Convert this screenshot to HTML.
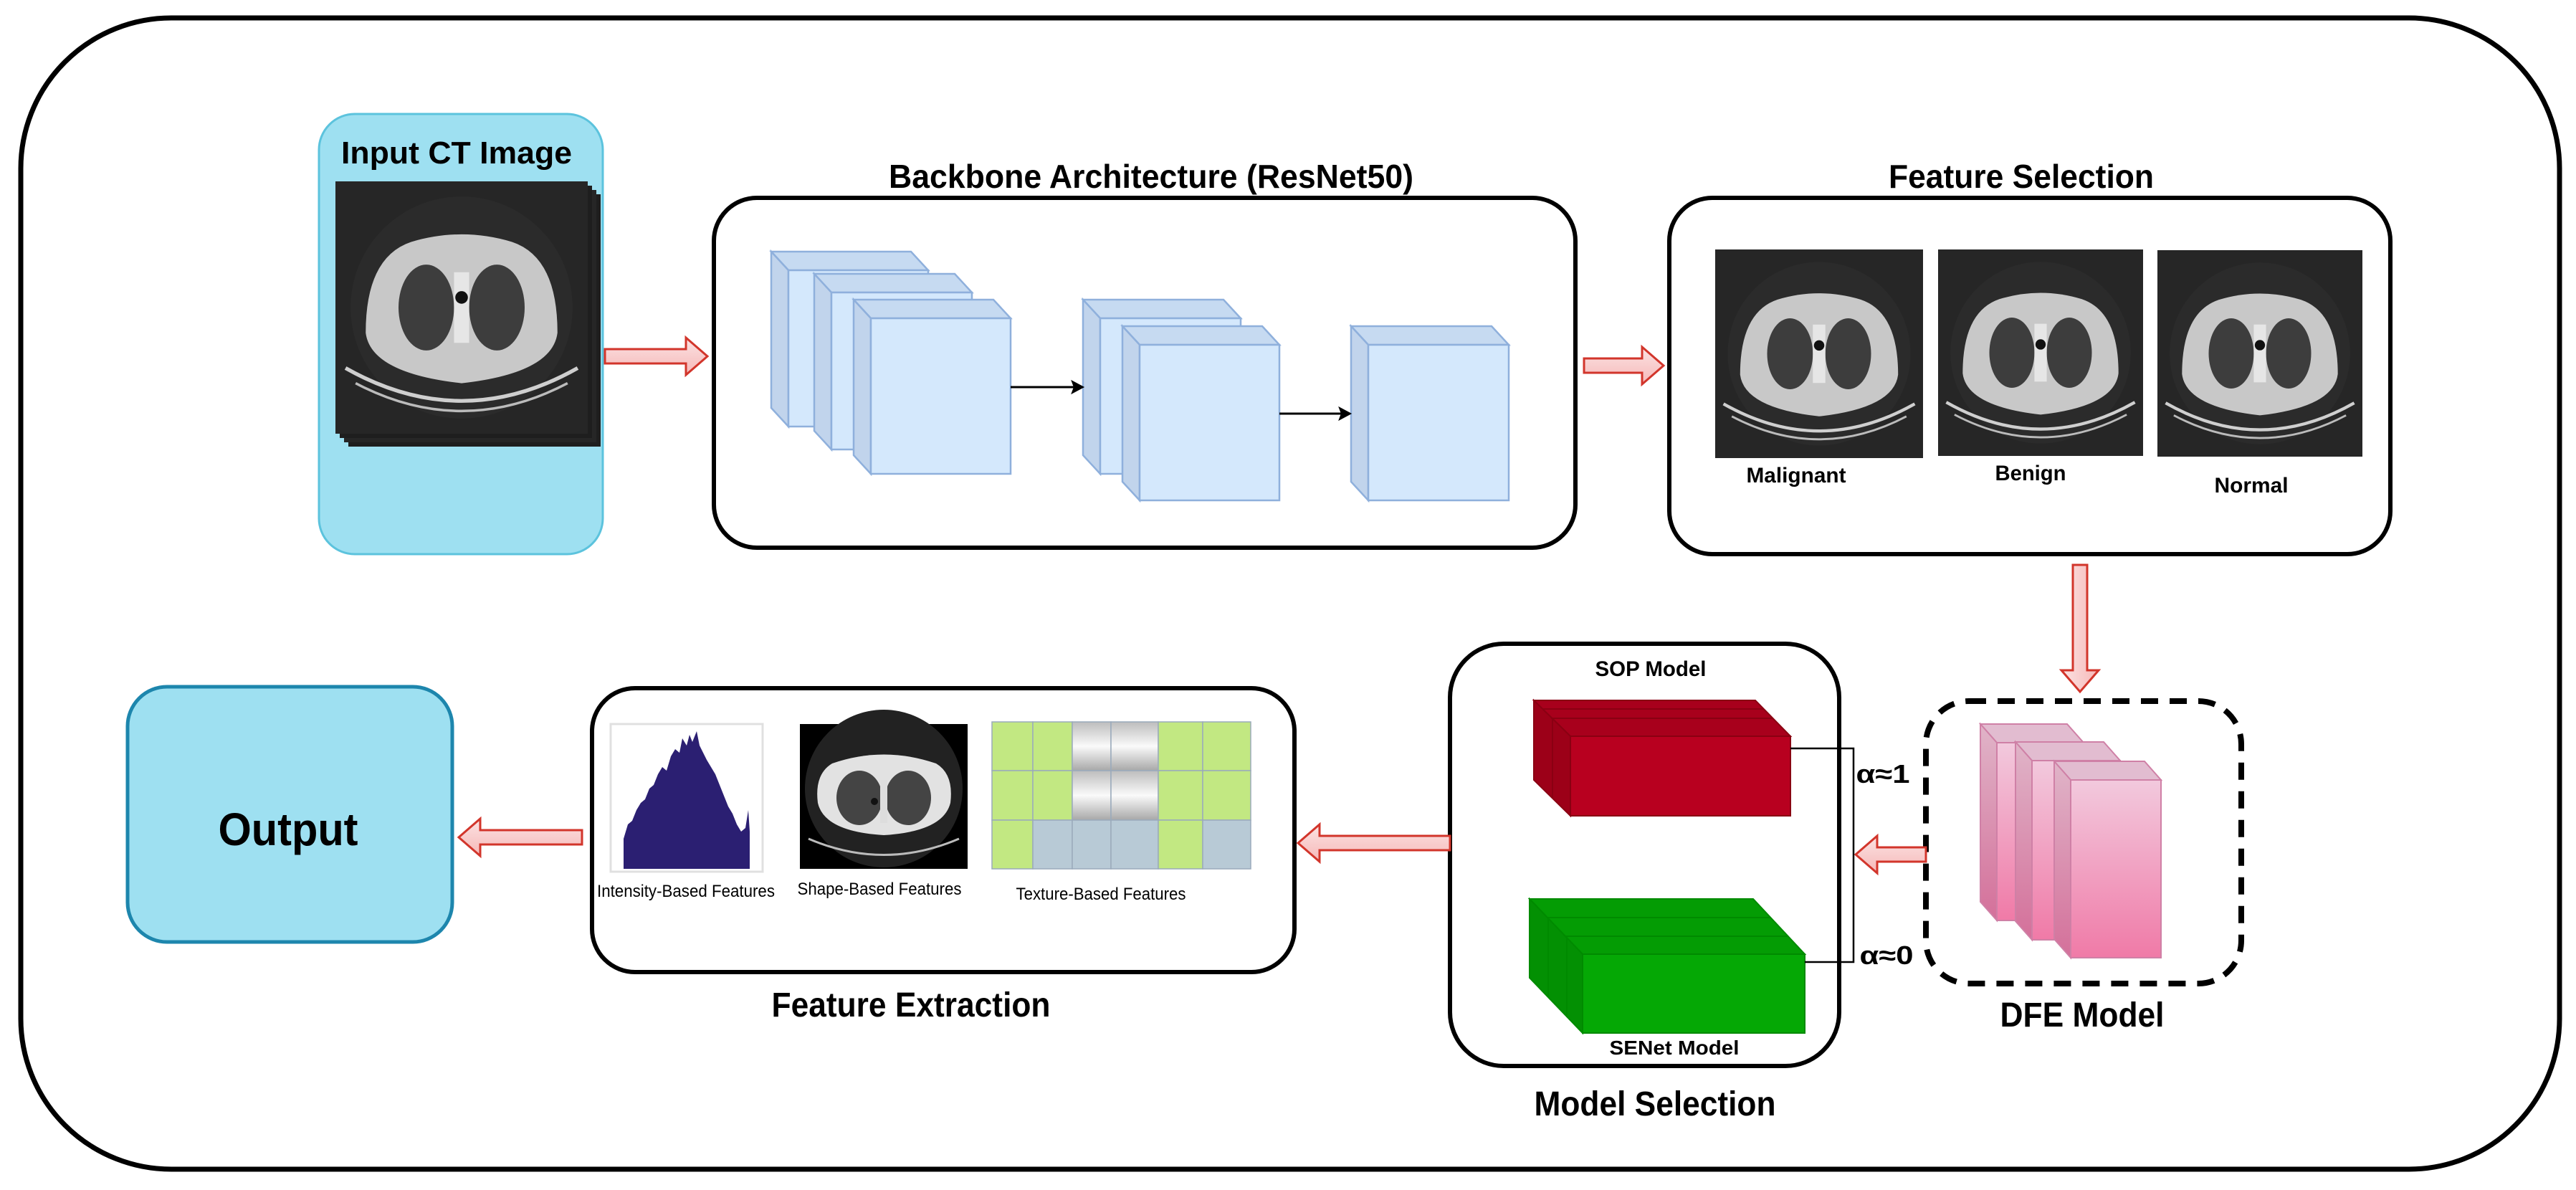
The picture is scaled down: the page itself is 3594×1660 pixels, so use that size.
<!DOCTYPE html>
<html><head><meta charset="utf-8"><style>
html,body{margin:0;padding:0;background:#fff;}
svg{display:block;}
text{font-family:"Liberation Sans Narrow","Liberation Sans",Arial,sans-serif;fill:#000;}
.b{font-weight:bold;}
</style></head><body>
<svg width="3594" height="1660" viewBox="0 0 3594 1660" xmlns="http://www.w3.org/2000/svg">
<defs>
<symbol id="ct" viewBox="0 0 100 100" preserveAspectRatio="none">
<rect x="0" y="0" width="100" height="100" fill="#262626"/>
<ellipse cx="50" cy="50" rx="44" ry="44" fill="#2b2b2b"/>
<path d="M12,60 Q12,30 30,24 Q50,18 70,24 Q88,30 88,60 Q86,76 50,80 Q14,76 12,60Z" fill="#c8c8c8"/>
<ellipse cx="36" cy="50" rx="11" ry="17" fill="#3d3d3d"/>
<ellipse cx="64" cy="50" rx="11" ry="17" fill="#3d3d3d"/>
<rect x="47" y="36" width="6" height="28" fill="#e6e6e6"/>
<circle cx="50" cy="46" r="2.5" fill="#111"/>
<path d="M4,74 Q50,100 96,74" stroke="#cfcfcf" stroke-width="1.5" fill="none"/>
<path d="M8,80 Q50,102 92,80" stroke="#bbb" stroke-width="1" fill="none"/>
</symbol>
<linearGradient id="pinkg" x1="0" y1="0" x2="0" y2="1"><stop offset="0" stop-color="#f2c9dd"/><stop offset="1" stop-color="#f07aa7"/></linearGradient>
<linearGradient id="pinks" x1="0" y1="0" x2="0" y2="1"><stop offset="0" stop-color="#e0b4c8"/><stop offset="1" stop-color="#d4709a"/></linearGradient>
<linearGradient id="grayc" x1="0" y1="0" x2="0" y2="1"><stop offset="0" stop-color="#bdbdbd"/><stop offset="0.5" stop-color="#fafafa"/><stop offset="1" stop-color="#a8a8a8"/></linearGradient>
<linearGradient id="arr" x1="0" y1="0" x2="0" y2="1"><stop offset="0" stop-color="#fbe3e3"/><stop offset="1" stop-color="#f6b8b8"/></linearGradient>
<linearGradient id="arrv" x1="0" y1="0" x2="1" y2="0"><stop offset="0" stop-color="#fbe3e3"/><stop offset="1" stop-color="#f6b8b8"/></linearGradient>
</defs>

<rect x="29" y="25" width="3542" height="1606" rx="210" ry="210" fill="none" stroke="#000" stroke-width="7"/>

<rect x="445" y="159" width="396" height="614" rx="50" fill="#9ee0f1" stroke="#5cc3dd" stroke-width="3"/>
<text class="b" x="637" y="228" font-size="44" text-anchor="middle" textLength="322" lengthAdjust="spacingAndGlyphs">Input CT Image</text>
<rect x="486" y="271" width="352" height="352" fill="#1e1e1e"/>
<rect x="480" y="265" width="352" height="352" fill="#262626"/>
<rect x="474" y="259" width="352" height="352" fill="#1e1e1e"/>
<use href="#ct" x="468" y="253" width="352" height="352"/>

<polygon points="844,487 957,487 957,471 987,497 957,523 957,507 844,507" fill="url(#arr)" stroke="#d2352b" stroke-width="3"/>

<text class="b" x="1606" y="262" font-size="46" text-anchor="middle" textLength="732" lengthAdjust="spacingAndGlyphs">Backbone Architecture (ResNet50)</text>
<rect x="996" y="276" width="1202" height="488" rx="60" fill="#fff" stroke="#000" stroke-width="6"/>
<g stroke="#8fb0dc" stroke-width="2.5">
<polygon points="1076,351 1271,351 1295,377 1100,377" fill="#c6daf1"/>
<polygon points="1076,351 1100,377 1100,595 1076,569" fill="#c1d4ec"/>
<rect x="1100" y="377" width="195" height="218" fill="#d4e8fc"/>
<polygon points="1136,382 1332,382 1356,408 1160,408" fill="#c6daf1"/>
<polygon points="1136,382 1160,408 1160,627 1136,601" fill="#c1d4ec"/>
<rect x="1160" y="408" width="196" height="219" fill="#d4e8fc"/>
<polygon points="1191,418 1386,418 1410,444 1215,444" fill="#c6daf1"/>
<polygon points="1191,418 1215,444 1215,661 1191,635" fill="#c1d4ec"/>
<rect x="1215" y="444" width="195" height="217" fill="#d4e8fc"/>
<polygon points="1511,418 1707,418 1731,444 1535,444" fill="#c6daf1"/>
<polygon points="1511,418 1535,444 1535,661 1511,635" fill="#c1d4ec"/>
<rect x="1535" y="444" width="196" height="217" fill="#d4e8fc"/>
<polygon points="1566,455 1761,455 1785,481 1590,481" fill="#c6daf1"/>
<polygon points="1566,455 1590,481 1590,698 1566,672" fill="#c1d4ec"/>
<rect x="1590" y="481" width="195" height="217" fill="#d4e8fc"/>
<polygon points="1885,455 2081,455 2105,481 1909,481" fill="#c6daf1"/>
<polygon points="1885,455 1909,481 1909,698 1885,672" fill="#c1d4ec"/>
<rect x="1909" y="481" width="196" height="217" fill="#d4e8fc"/>
</g>
<line x1="1410" y1="540" x2="1500" y2="540" stroke="#000" stroke-width="3"/>
<polygon points="1511,540 1496,532 1499,540 1496,548" fill="#000" stroke="#000" stroke-width="2"/>
<line x1="1785" y1="577" x2="1873" y2="577" stroke="#000" stroke-width="3"/>
<polygon points="1884,577 1869,569 1872,577 1869,585" fill="#000" stroke="#000" stroke-width="2"/>

<polygon points="2210,500 2291,500 2291,484 2321,510 2291,536 2291,520 2210,520" fill="url(#arr)" stroke="#d2352b" stroke-width="3"/>

<text class="b" x="2820" y="262" font-size="46" text-anchor="middle" textLength="370" lengthAdjust="spacingAndGlyphs">Feature Selection</text>
<rect x="2329" y="276" width="1006" height="497" rx="60" fill="#fff" stroke="#000" stroke-width="6"/>
<use href="#ct" x="2393" y="348" width="290" height="291"/>
<use href="#ct" x="2704" y="348" width="286" height="288"/>
<use href="#ct" x="3010" y="349" width="286" height="288"/>
<text class="b" x="2506" y="673" font-size="30" text-anchor="middle" textLength="139" lengthAdjust="spacingAndGlyphs">Malignant</text>
<text class="b" x="2833" y="670" font-size="30" text-anchor="middle" textLength="99" lengthAdjust="spacingAndGlyphs">Benign</text>
<text class="b" x="3141" y="687" font-size="30" text-anchor="middle" textLength="103" lengthAdjust="spacingAndGlyphs">Normal</text>

<polygon points="2892,788 2912,788 2912,935 2928,935 2902,965 2876,935 2892,935" fill="url(#arrv)" stroke="#d2352b" stroke-width="3"/>

<rect x="2687" y="978" width="440" height="394" rx="60" fill="none" stroke="#000" stroke-width="8" stroke-dasharray="24 16"/>
<g stroke="#cf80a6" stroke-width="2">
<polygon points="2763,1010 2884,1010 2907,1036 2786,1036" fill="#e2bcd0"/>
<polygon points="2763,1010 2786,1036 2786,1284 2763,1258" fill="url(#pinks)"/>
<rect x="2786" y="1036" width="121" height="248" fill="url(#pinkg)"/>
<polygon points="2812,1035 2935,1035 2958,1061 2835,1061" fill="#e2bcd0"/>
<polygon points="2812,1035 2835,1061 2835,1311 2812,1285" fill="url(#pinks)"/>
<rect x="2835" y="1061" width="123" height="250" fill="url(#pinkg)"/>
<polygon points="2866,1062 2992,1062 3015,1088 2889,1088" fill="#e2bcd0"/>
<polygon points="2866,1062 2889,1088 2889,1336 2866,1310" fill="url(#pinks)"/>
<rect x="2889" y="1088" width="126" height="248" fill="url(#pinkg)"/>
</g>
<text class="b" x="2905" y="1432" font-size="48" text-anchor="middle" textLength="229" lengthAdjust="spacingAndGlyphs">DFE Model</text>

<polygon points="2687,1182 2619,1182 2619,1166 2589,1192 2619,1218 2619,1202 2687,1202" fill="url(#arr)" stroke="#d2352b" stroke-width="3"/>

<rect x="2023" y="898" width="543" height="589" rx="75" fill="#fff" stroke="#000" stroke-width="6"/>
<text class="b" x="2303" y="943" font-size="30" text-anchor="middle" textLength="155" lengthAdjust="spacingAndGlyphs">SOP Model</text>
<g stroke="#8a0012" stroke-width="2">
<polygon points="2140,977 2449,977 2498,1027 2191,1027" fill="#a8001c"/>
<polygon points="2140,977 2191,1027 2191,1138 2140,1088" fill="#9c0018"/>
<rect x="2191" y="1027" width="307" height="111" fill="#b8001f"/>
<line x1="2152" y1="989" x2="2461" y2="989"/>
<line x1="2164" y1="1002" x2="2473" y2="1002"/>
<line x1="2166" y1="1002" x2="2166" y2="1113"/>
</g>
<g stroke="#008a00" stroke-width="2">
<polygon points="2134,1254 2446,1254 2518,1331 2208,1331" fill="#049c04"/>
<polygon points="2134,1254 2208,1331 2208,1441 2134,1364" fill="#039003"/>
<rect x="2208" y="1331" width="310" height="110" fill="#05a805"/>
<line x1="2158" y1="1280" x2="2470" y2="1280"/>
<line x1="2184" y1="1306" x2="2494" y2="1306"/>
<line x1="2160" y1="1280" x2="2160" y2="1390"/>
<line x1="2186" y1="1306" x2="2186" y2="1416"/>
</g>
<polyline points="2498,1044 2586,1044 2586,1342 2518,1342" fill="none" stroke="#000" stroke-width="2.5"/>
<text class="b" x="2627" y="1092" font-size="36" text-anchor="middle" textLength="75" lengthAdjust="spacingAndGlyphs">α≈1</text>
<text class="b" x="2632" y="1345" font-size="36" text-anchor="middle" textLength="75" lengthAdjust="spacingAndGlyphs">α≈0</text>
<text class="b" x="2336" y="1471" font-size="28" text-anchor="middle" textLength="181" lengthAdjust="spacingAndGlyphs">SENet Model</text>
<text class="b" x="2309" y="1556" font-size="48" text-anchor="middle" textLength="337" lengthAdjust="spacingAndGlyphs">Model Selection</text>

<polygon points="2023,1166 1841,1166 1841,1150 1811,1176 1841,1202 1841,1186 2023,1186" fill="url(#arr)" stroke="#d2352b" stroke-width="3"/>

<rect x="826" y="960" width="980" height="396" rx="60" fill="#fff" stroke="#000" stroke-width="6"/>
<rect x="852" y="1010" width="212" height="206" fill="#fff" stroke="#e0e0e0" stroke-width="3"/>
<polygon fill="#2b1f72" points="870,1212 870,1170 876,1150 882,1145 888,1130 894,1120 900,1115 906,1100 912,1095 918,1080 924,1070 930,1075 936,1055 942,1045 948,1050 952,1030 958,1040 962,1025 966,1035 972,1020 976,1040 980,1048 986,1060 992,1070 998,1080 1004,1095 1010,1110 1016,1125 1022,1135 1028,1150 1034,1160 1040,1155 1044,1130 1046,1160 1046,1212"/>
<rect x="1116" y="1010" width="234" height="202" fill="#000"/>
<g transform="translate(1116,1010)">
<ellipse cx="117" cy="90" rx="110" ry="110" fill="#222"/>
<path d="M25,110 Q20,70 45,55 Q117,30 190,55 Q215,70 210,110 Q200,150 117,155 Q34,150 25,110Z" fill="#e2e2e2"/>
<ellipse cx="83" cy="103" rx="32" ry="38" fill="#444"/>
<ellipse cx="151" cy="103" rx="32" ry="38" fill="#444"/>
<rect x="112" y="78" width="10" height="60" fill="#ddd"/>
<circle cx="104" cy="108" r="5" fill="#111"/>
<path d="M12,160 Q117,205 222,160" stroke="#bbb" stroke-width="3" fill="none"/>
</g>
<g stroke="#9aaabb" stroke-width="1.5">
<rect x="1384" y="1007" width="57" height="68" fill="#c2e882"/>
<rect x="1441" y="1007" width="55" height="68" fill="#c2e882"/>
<rect x="1496" y="1007" width="54" height="68" fill="url(#grayc)"/>
<rect x="1550" y="1007" width="66" height="68" fill="url(#grayc)"/>
<rect x="1616" y="1007" width="62" height="68" fill="#c2e882"/>
<rect x="1678" y="1007" width="67" height="68" fill="#c2e882"/>
<rect x="1384" y="1075" width="57" height="69" fill="#c2e882"/>
<rect x="1441" y="1075" width="55" height="69" fill="#c2e882"/>
<rect x="1496" y="1075" width="54" height="69" fill="url(#grayc)"/>
<rect x="1550" y="1075" width="66" height="69" fill="url(#grayc)"/>
<rect x="1616" y="1075" width="62" height="69" fill="#c2e882"/>
<rect x="1678" y="1075" width="67" height="69" fill="#c2e882"/>
<rect x="1384" y="1144" width="57" height="68" fill="#c2e882"/>
<rect x="1441" y="1144" width="55" height="68" fill="#b8cad6"/>
<rect x="1496" y="1144" width="54" height="68" fill="#b8cad6"/>
<rect x="1550" y="1144" width="66" height="68" fill="#b8cad6"/>
<rect x="1616" y="1144" width="62" height="68" fill="#c2e882"/>
<rect x="1678" y="1144" width="67" height="68" fill="#b8cad6"/>
</g>
<text x="957" y="1251" font-size="24" text-anchor="middle" textLength="248" lengthAdjust="spacingAndGlyphs">Intensity-Based Features</text>
<text x="1227" y="1248" font-size="24" text-anchor="middle" textLength="229" lengthAdjust="spacingAndGlyphs">Shape-Based Features</text>
<text x="1536" y="1255" font-size="24" text-anchor="middle" textLength="237" lengthAdjust="spacingAndGlyphs">Texture-Based Features</text>
<text class="b" x="1271" y="1418" font-size="48" text-anchor="middle" textLength="389" lengthAdjust="spacingAndGlyphs">Feature Extraction</text>

<polygon points="812,1158 670,1158 670,1142 640,1168 670,1194 670,1178 812,1178" fill="url(#arr)" stroke="#d2352b" stroke-width="3"/>

<rect x="178" y="958" width="453" height="356" rx="55" fill="#9ee0f1" stroke="#1d86ad" stroke-width="5"/>
<text class="b" x="402" y="1179" font-size="64" text-anchor="middle" textLength="195" lengthAdjust="spacingAndGlyphs">Output</text>
</svg>
</body></html>
